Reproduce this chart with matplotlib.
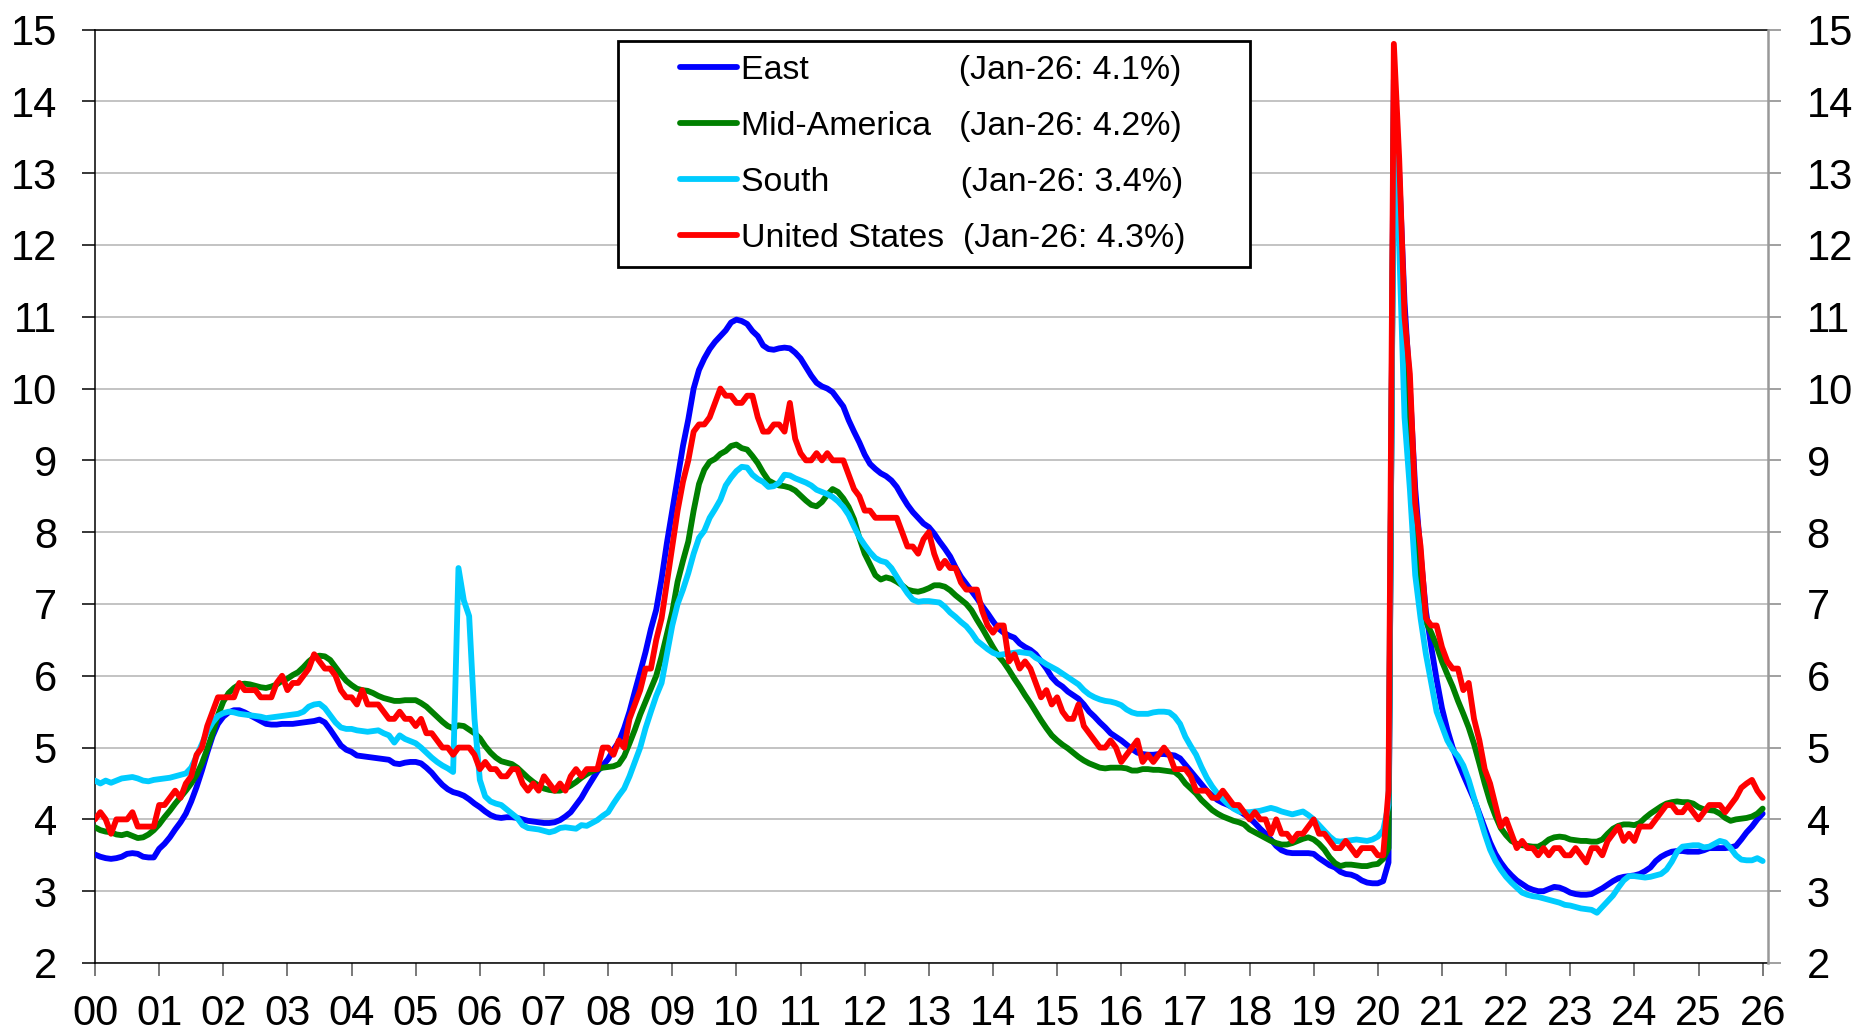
import matplotlib
matplotlib.use("Agg")
import matplotlib.pyplot as plt
import numpy as np
from matplotlib.patches import Rectangle

plt.rcParams['font.family'] = ['Liberation Sans', 'DejaVu Sans']

# ---------------- data (monthly, Jan 2000 .. Jan 2026) ----------------
east = [
    3.51, 3.48, 3.46, 3.45, 3.46, 3.48, 3.52, 3.53, 3.52, 3.48, 3.47, 3.47,   # 2000
    3.59, 3.66, 3.75, 3.86, 3.96, 4.08, 4.25, 4.45, 4.68, 4.93, 5.16, 5.33,   # 2001
    5.43, 5.49, 5.52, 5.52, 5.49, 5.45, 5.41, 5.37, 5.33, 5.32, 5.32, 5.33,   # 2002
    5.33, 5.33, 5.34, 5.35, 5.36, 5.37, 5.39, 5.35, 5.25, 5.14, 5.03, 4.97,   # 2003
    4.94, 4.89, 4.88, 4.87, 4.86, 4.85, 4.84, 4.83, 4.78, 4.77, 4.79, 4.80,   # 2004
    4.80, 4.78, 4.72, 4.65, 4.56, 4.48, 4.42, 4.38, 4.36, 4.33, 4.28, 4.22,   # 2005
    4.17, 4.11, 4.06, 4.03, 4.02, 4.03, 4.03, 4.02, 4.00, 3.98, 3.97, 3.96,   # 2006
    3.95, 3.95, 3.96, 3.99, 4.04, 4.10, 4.20, 4.30, 4.43, 4.55, 4.67, 4.75,   # 2007
    4.84, 4.97, 5.08, 5.27, 5.50, 5.78, 6.05, 6.33, 6.65, 6.92, 7.35, 7.85,   # 2008
    8.30, 8.75, 9.20, 9.57, 10.00, 10.26, 10.42, 10.55, 10.65, 10.73, 10.81, 10.92,  # 2009
    10.96, 10.94, 10.90, 10.80, 10.73, 10.60, 10.55, 10.54, 10.56, 10.57, 10.56, 10.50,  # 2010
    10.42, 10.30, 10.18, 10.08, 10.03, 10.00, 9.95, 9.85, 9.75, 9.56, 9.40, 9.25,  # 2011
    9.08, 8.95, 8.88, 8.82, 8.78, 8.72, 8.63, 8.50, 8.38, 8.28, 8.20, 8.12,   # 2012
    8.07, 7.98, 7.87, 7.77, 7.66, 7.51, 7.38, 7.28, 7.18, 7.08, 6.97, 6.87,   # 2013
    6.76, 6.66, 6.60, 6.56, 6.53, 6.45, 6.40, 6.36, 6.30, 6.20, 6.10, 5.98,   # 2014
    5.90, 5.85, 5.78, 5.73, 5.68, 5.60, 5.50, 5.43, 5.35, 5.28, 5.20, 5.15,   # 2015
    5.10, 5.04, 4.98, 4.93, 4.91, 4.90, 4.90, 4.91, 4.91, 4.90, 4.89, 4.85,   # 2016
    4.76, 4.67, 4.58, 4.49, 4.40, 4.33, 4.27, 4.23, 4.20, 4.16, 4.12, 4.07,   # 2017
    4.02, 3.95, 3.87, 3.80, 3.72, 3.63, 3.57, 3.54, 3.53, 3.53, 3.53, 3.53,   # 2018
    3.52, 3.46, 3.41, 3.36, 3.33, 3.27, 3.24, 3.23, 3.20, 3.15, 3.12, 3.11,   # 2019
    3.11, 3.14, 3.40, 14.30, 13.00, 11.20, 10.00, 8.60, 7.70, 6.90, 6.40, 5.95,  # 2020
    5.55, 5.25, 5.00, 4.80, 4.62, 4.45, 4.28, 4.08, 3.88, 3.68, 3.52, 3.40,   # 2021
    3.30, 3.22, 3.15, 3.10, 3.05, 3.02, 3.00, 3.00, 3.03, 3.06, 3.05, 3.02,   # 2022
    2.98, 2.96, 2.95, 2.95, 2.96, 3.00, 3.04, 3.09, 3.14, 3.18, 3.20, 3.21,   # 2023
    3.22, 3.24, 3.28, 3.33, 3.42, 3.48, 3.52, 3.55, 3.56, 3.56, 3.55, 3.55,   # 2024
    3.55, 3.57, 3.60, 3.60, 3.60, 3.60, 3.61, 3.63, 3.72, 3.82, 3.90, 4.00,   # 2025
    4.08,                                                                     # 2026
]

mid_america = [
    3.89, 3.85, 3.83, 3.82, 3.79, 3.78, 3.80, 3.77, 3.74, 3.75, 3.79, 3.85,   # 2000
    3.93, 4.03, 4.12, 4.22, 4.31, 4.40, 4.50, 4.62, 4.78, 4.98, 5.20, 5.45,   # 2001
    5.64, 5.76, 5.83, 5.88, 5.89, 5.88, 5.86, 5.84, 5.83, 5.85, 5.88, 5.93,   # 2002
    5.96, 6.01, 6.05, 6.12, 6.20, 6.26, 6.28, 6.27, 6.22, 6.12, 6.02, 5.93,   # 2003
    5.87, 5.82, 5.80, 5.79, 5.76, 5.72, 5.69, 5.67, 5.65, 5.65, 5.66, 5.66,   # 2004
    5.66, 5.62, 5.57, 5.50, 5.43, 5.36, 5.30, 5.27, 5.31, 5.30, 5.25, 5.20,   # 2005
    5.13, 5.02, 4.93, 4.86, 4.81, 4.79, 4.77, 4.72, 4.65, 4.58, 4.52, 4.47,   # 2006
    4.43, 4.41, 4.40, 4.40, 4.43, 4.47, 4.52, 4.58, 4.63, 4.67, 4.70, 4.72,   # 2007
    4.73, 4.74, 4.77, 4.88, 5.06, 5.25, 5.46, 5.64, 5.82, 6.00, 6.27, 6.58,   # 2008
    6.89, 7.31, 7.60, 7.87, 8.30, 8.67, 8.87, 8.98, 9.02, 9.09, 9.13, 9.20,   # 2009
    9.22, 9.17, 9.15, 9.06, 8.96, 8.83, 8.72, 8.68, 8.65, 8.64, 8.62, 8.58,   # 2010
    8.51, 8.44, 8.38, 8.36, 8.42, 8.52, 8.60, 8.56, 8.47, 8.35, 8.18, 7.92,   # 2011
    7.70, 7.55, 7.40, 7.34, 7.37, 7.35, 7.31, 7.26, 7.20, 7.18, 7.17, 7.19,   # 2012
    7.22, 7.26, 7.26, 7.24, 7.19, 7.12, 7.06, 7.00, 6.91, 6.78, 6.66, 6.53,   # 2013
    6.40, 6.28, 6.19, 6.08, 5.96, 5.85, 5.73, 5.62, 5.50, 5.38, 5.27, 5.17,   # 2014
    5.10, 5.04, 4.99, 4.93, 4.87, 4.82, 4.78, 4.75, 4.72, 4.71, 4.72, 4.72,   # 2015
    4.72, 4.71, 4.68, 4.68, 4.70, 4.70, 4.69, 4.69, 4.68, 4.67, 4.66, 4.60,   # 2016
    4.50, 4.43, 4.36, 4.27, 4.20, 4.13, 4.08, 4.04, 4.01, 3.98, 3.96, 3.93,   # 2017
    3.86, 3.82, 3.78, 3.74, 3.70, 3.67, 3.65, 3.65, 3.67, 3.70, 3.73, 3.75,   # 2018
    3.72, 3.66, 3.58, 3.47, 3.39, 3.35, 3.37, 3.37, 3.36, 3.35, 3.35, 3.37,   # 2019
    3.38, 3.45, 3.60, 14.00, 12.60, 10.80, 9.30, 8.00, 7.10, 6.75, 6.60, 6.42,  # 2020
    6.20, 6.02, 5.85, 5.65, 5.47, 5.28, 5.05, 4.78, 4.50, 4.25, 4.05, 3.88,   # 2021
    3.78, 3.70, 3.66, 3.64, 3.63, 3.62, 3.62, 3.66, 3.72, 3.75, 3.76, 3.75,   # 2022
    3.72, 3.71, 3.70, 3.70, 3.69, 3.69, 3.72, 3.80, 3.87, 3.91, 3.93, 3.93,   # 2023
    3.92, 3.95, 4.02, 4.08, 4.13, 4.18, 4.22, 4.24, 4.25, 4.24, 4.24, 4.22,   # 2024
    4.17, 4.14, 4.13, 4.12, 4.08, 4.02, 3.98, 4.00, 4.01, 4.02, 4.04, 4.08,   # 2025
    4.15,                                                                     # 2026
]

south = [
    4.54, 4.50, 4.54, 4.51, 4.54, 4.57, 4.58, 4.59, 4.57, 4.54, 4.53, 4.55,   # 2000
    4.56, 4.57, 4.58, 4.60, 4.62, 4.64, 4.72, 4.88, 5.05, 5.22, 5.35, 5.44,   # 2001
    5.48, 5.50, 5.49, 5.47, 5.46, 5.45, 5.44, 5.43, 5.41, 5.42, 5.43, 5.44,   # 2002
    5.45, 5.46, 5.47, 5.50, 5.57, 5.60, 5.61, 5.55, 5.45, 5.35, 5.28, 5.26,   # 2003
    5.26, 5.24, 5.23, 5.22, 5.23, 5.24, 5.20, 5.17, 5.07, 5.17, 5.12, 5.09,   # 2004
    5.06, 5.00, 4.93, 4.86, 4.80, 4.75, 4.71, 4.66, 7.50, 7.05, 6.83, 5.40,   # 2005
    4.55, 4.32, 4.25, 4.22, 4.20, 4.14, 4.08, 4.02, 3.92, 3.88, 3.87, 3.86,   # 2006
    3.84, 3.82, 3.84, 3.88, 3.89, 3.88, 3.87, 3.92, 3.91, 3.95, 3.99, 4.05,   # 2007
    4.10, 4.22, 4.33, 4.43, 4.60, 4.80, 5.00, 5.27, 5.50, 5.72, 5.90, 6.30,   # 2008
    6.70, 7.00, 7.20, 7.43, 7.70, 7.92, 8.02, 8.20, 8.32, 8.45, 8.65, 8.76,   # 2009
    8.85, 8.91, 8.90, 8.80, 8.74, 8.70, 8.63, 8.64, 8.69, 8.80, 8.79, 8.75,   # 2010
    8.72, 8.69, 8.65, 8.59, 8.56, 8.53, 8.49, 8.43, 8.35, 8.24, 8.08, 7.93,   # 2011
    7.82, 7.72, 7.64, 7.60, 7.58, 7.50, 7.38, 7.26, 7.15, 7.06, 7.03, 7.04,   # 2012
    7.04, 7.03, 7.02, 6.96, 6.88, 6.82, 6.75, 6.69, 6.60, 6.49, 6.43, 6.37,   # 2013
    6.32, 6.29, 6.30, 6.31, 6.32, 6.33, 6.32, 6.31, 6.25, 6.21, 6.16, 6.12,   # 2014
    6.08, 6.03, 5.98, 5.93, 5.88, 5.80, 5.74, 5.70, 5.67, 5.65, 5.64, 5.62,   # 2015
    5.59, 5.53, 5.49, 5.47, 5.47, 5.47, 5.49, 5.50, 5.50, 5.49, 5.43, 5.33,   # 2016
    5.15, 5.02, 4.90, 4.73, 4.58, 4.46, 4.36, 4.28, 4.21, 4.15, 4.11, 4.10,   # 2017
    4.10, 4.11, 4.12, 4.14, 4.16, 4.14, 4.11, 4.09, 4.07, 4.09, 4.11, 4.06,   # 2018
    4.00, 3.92, 3.84, 3.76, 3.70, 3.69, 3.70, 3.71, 3.72, 3.71, 3.70, 3.72,   # 2019
    3.76, 3.85, 4.20, 13.60, 12.00, 9.60, 8.60, 7.40, 6.80, 6.30, 5.90, 5.50,  # 2020
    5.30, 5.10, 4.97, 4.88, 4.75, 4.55, 4.30, 4.05, 3.80, 3.58, 3.42, 3.30,   # 2021
    3.20, 3.12, 3.05, 2.98, 2.95, 2.93, 2.92, 2.90, 2.88, 2.86, 2.84, 2.81,   # 2022
    2.80, 2.78, 2.76, 2.75, 2.74, 2.70, 2.78, 2.86, 2.94, 3.05, 3.15, 3.21,   # 2023
    3.21, 3.20, 3.19, 3.20, 3.22, 3.24, 3.30, 3.41, 3.55, 3.62, 3.63, 3.64,   # 2024
    3.64, 3.61, 3.62, 3.66, 3.70, 3.68, 3.60, 3.50, 3.44, 3.43, 3.43, 3.46,   # 2025
    3.42,                                                                     # 2026
]

united_states = [
    4.0, 4.1, 4.0, 3.8, 4.0, 4.0, 4.0, 4.1, 3.9, 3.9, 3.9, 3.9,   # 2000
    4.2, 4.2, 4.3, 4.4, 4.3, 4.5, 4.6, 4.9, 5.0, 5.3, 5.5, 5.7,   # 2001
    5.7, 5.7, 5.7, 5.9, 5.8, 5.8, 5.8, 5.7, 5.7, 5.7, 5.9, 6.0,   # 2002
    5.8, 5.9, 5.9, 6.0, 6.1, 6.3, 6.2, 6.1, 6.1, 6.0, 5.8, 5.7,   # 2003
    5.7, 5.6, 5.8, 5.6, 5.6, 5.6, 5.5, 5.4, 5.4, 5.5, 5.4, 5.4,   # 2004
    5.3, 5.4, 5.2, 5.2, 5.1, 5.0, 5.0, 4.9, 5.0, 5.0, 5.0, 4.9,   # 2005
    4.7, 4.8, 4.7, 4.7, 4.6, 4.6, 4.7, 4.7, 4.5, 4.4, 4.5, 4.4,   # 2006
    4.6, 4.5, 4.4, 4.5, 4.4, 4.6, 4.7, 4.6, 4.7, 4.7, 4.7, 5.0,   # 2007
    5.0, 4.9, 5.1, 5.0, 5.4, 5.6, 5.8, 6.1, 6.1, 6.5, 6.8, 7.3,   # 2008
    7.8, 8.3, 8.7, 9.0, 9.4, 9.5, 9.5, 9.6, 9.8, 10.0, 9.9, 9.9,  # 2009
    9.8, 9.8, 9.9, 9.9, 9.6, 9.4, 9.4, 9.5, 9.5, 9.4, 9.8, 9.3,   # 2010
    9.1, 9.0, 9.0, 9.1, 9.0, 9.1, 9.0, 9.0, 9.0, 8.8, 8.6, 8.5,   # 2011
    8.3, 8.3, 8.2, 8.2, 8.2, 8.2, 8.2, 8.0, 7.8, 7.8, 7.7, 7.9,   # 2012
    8.0, 7.7, 7.5, 7.6, 7.5, 7.5, 7.3, 7.2, 7.2, 7.2, 6.9, 6.7,   # 2013
    6.6, 6.7, 6.7, 6.2, 6.3, 6.1, 6.2, 6.1, 5.9, 5.7, 5.8, 5.6,   # 2014
    5.7, 5.5, 5.4, 5.4, 5.6, 5.3, 5.2, 5.1, 5.0, 5.0, 5.1, 5.0,   # 2015
    4.8, 4.9, 5.0, 5.1, 4.8, 4.9, 4.8, 4.9, 5.0, 4.9, 4.7, 4.7,   # 2016
    4.7, 4.6, 4.4, 4.4, 4.4, 4.3, 4.3, 4.4, 4.3, 4.2, 4.2, 4.1,   # 2017
    4.0, 4.1, 4.0, 4.0, 3.8, 4.0, 3.8, 3.8, 3.7, 3.8, 3.8, 3.9,   # 2018
    4.0, 3.8, 3.8, 3.7, 3.6, 3.6, 3.7, 3.6, 3.5, 3.6, 3.6, 3.6,   # 2019
    3.5, 3.5, 4.4, 14.8, 13.2, 11.0, 10.2, 8.4, 7.8, 6.8, 6.7, 6.7,  # 2020
    6.4, 6.2, 6.1, 6.1, 5.8, 5.9, 5.4, 5.1, 4.7, 4.5, 4.2, 3.9,   # 2021
    4.0, 3.8, 3.6, 3.7, 3.6, 3.6, 3.5, 3.6, 3.5, 3.6, 3.6, 3.5,   # 2022
    3.5, 3.6, 3.5, 3.4, 3.6, 3.6, 3.5, 3.7, 3.8, 3.9, 3.7, 3.8,   # 2023
    3.7, 3.9, 3.9, 3.9, 4.0, 4.1, 4.2, 4.2, 4.1, 4.1, 4.2, 4.1,   # 2024
    4.0, 4.1, 4.2, 4.2, 4.2, 4.1, 4.2, 4.3, 4.44, 4.5, 4.55, 4.4,  # 2025
    4.3,                                                          # 2026
]

series_names = ["East", "Mid-America", "South", "United States"]
series_colors = ["#0000FF", "#008000", "#00CCFF", "#FF0000"]
legend_pads = [16, 3, 14, 2]
legend_notes = ["(Jan-26: 4.1%)", "(Jan-26: 4.2%)", "(Jan-26: 3.4%)", "(Jan-26: 4.3%)"]
year_labels = [f"{y % 100:02d}" for y in range(2000, 2027)]
y_ticks = list(range(2, 16))

# ---------------- figure ----------------
W, H = 1873, 1031
fig = plt.figure(figsize=(W / 100, H / 100), dpi=100)
ax_l, ax_r, ax_t, ax_b = 95, 1768, 29.5, 963
ax = fig.add_axes([ax_l / W, 1 - ax_b / H, (ax_r - ax_l) / W, (ax_b - ax_t) / H])

all_series = [east, mid_america, south, united_states]
handles = []
for vals, name, col in zip(all_series, series_names, series_colors):
    x = np.arange(len(vals))
    ln, = ax.plot(x, vals, color=col, lw=4.2, solid_joinstyle='round',
                  solid_capstyle='round', zorder=3)
    handles.append(ln)

ax.set_xlim(0, 313)
ax.set_ylim(2, 15)
ax.set_yticks(y_ticks)
ax.set_xticks(np.arange(0, 313, 12))
ax.set_xticklabels(year_labels)
ax.grid(axis='y', color='#BEBEBE', lw=1.3, zorder=0)
ax.set_axisbelow(True)

for s in ['left', 'bottom', 'top']:
    ax.spines[s].set_color('black')
    ax.spines[s].set_linewidth(1.1)
ax.spines['right'].set_visible(False)

ax.tick_params(axis='x', direction='out', length=9.4, width=1.1, color='#555555',
               pad=13, labelsize=30)
ax.tick_params(axis='y', direction='out', length=9.4, width=1.1, color='black',
               pad=18, labelsize=30)

ax2 = ax.twinx()
ax2.set_ylim(2, 15)
ax2.set_yticks(y_ticks)
for s in ['left', 'bottom', 'top']:
    ax2.spines[s].set_visible(False)
ax2.spines['right'].set_color('#999999')
ax2.spines['right'].set_linewidth(1.8)
ax2.tick_params(axis='y', direction='out', length=9.4, width=1.3, color='#999999',
                pad=18.5, labelsize=30, labelcolor='black')

# ---------------- legend ----------------
box = Rectangle((618 / W, 1 - 267 / H), (1250 - 618) / W, (267 - 41) / H,
                transform=fig.transFigure, facecolor='white', edgecolor='black',
                lw=2.0, zorder=4, clip_on=False)
ax2.add_artist(box)
labels = [n + " " * p + note for n, p, note in zip(series_names, legend_pads, legend_notes)]
leg = ax2.legend(handles, labels, loc='upper left',
                 bbox_to_anchor=(680 / W, 1 - 55 / H), bbox_transform=fig.transFigure,
                 frameon=False, borderpad=0, borderaxespad=0,
                 handlelength=1.67, handletextpad=0.12, labelspacing=0.74,
                 prop={'family': 'Liberation Sans', 'size': 24.4})
leg.set_zorder(5)

fig.savefig("out.png", dpi=100)
